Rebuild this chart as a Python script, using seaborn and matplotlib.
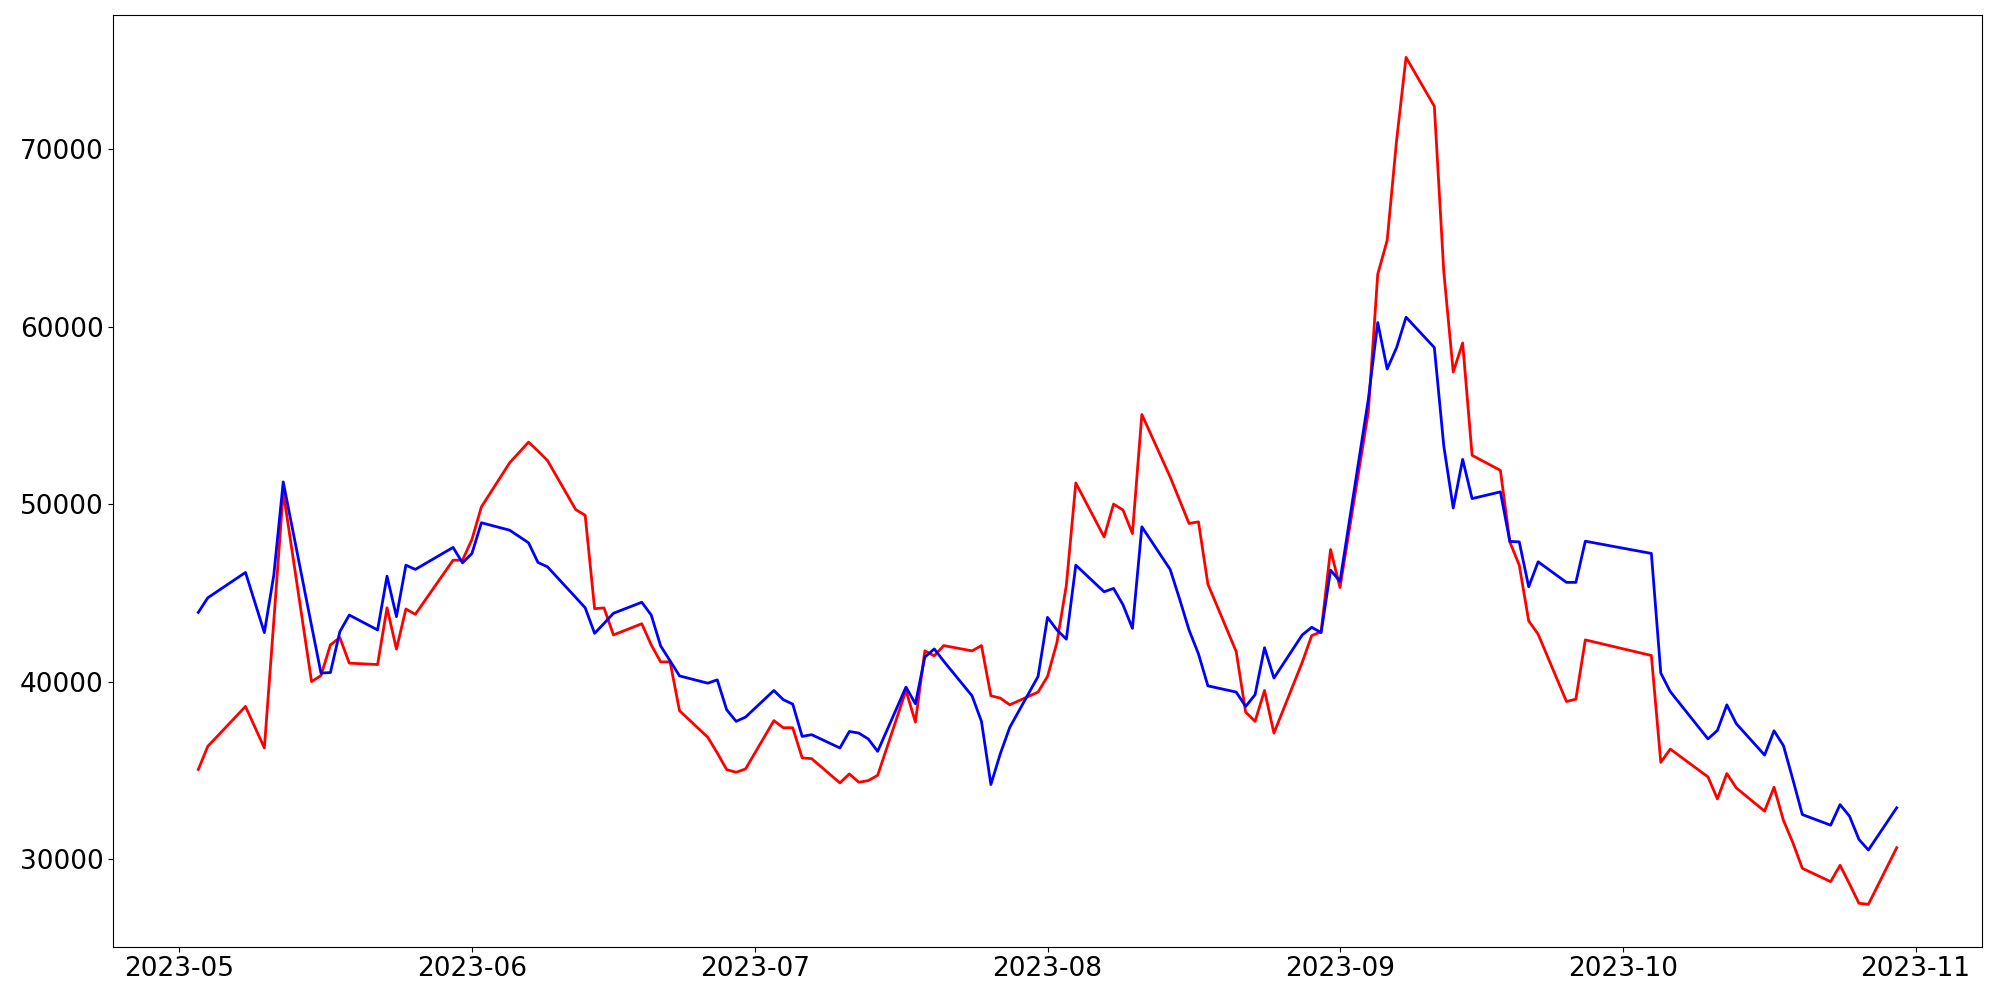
import pandas as pd
import matplotlib
matplotlib.use('Agg')
import matplotlib.pyplot as plt
import seaborn as sns

# Dates (business days with some gaps)
dates = [
    '2023-05-03', '2023-05-04', '2023-05-08', '2023-05-10', '2023-05-11', '2023-05-12',
    '2023-05-15', '2023-05-16', '2023-05-17', '2023-05-18', '2023-05-19',
    '2023-05-22', '2023-05-23', '2023-05-24', '2023-05-25', '2023-05-26',
    '2023-05-30', '2023-05-31', '2023-06-01', '2023-06-02',
    '2023-06-05', '2023-06-07', '2023-06-08', '2023-06-09',
    '2023-06-12', '2023-06-13', '2023-06-14', '2023-06-15', '2023-06-16',
    '2023-06-19', '2023-06-20', '2023-06-21', '2023-06-22', '2023-06-23',
    '2023-06-26', '2023-06-27', '2023-06-28', '2023-06-29', '2023-06-30',
    '2023-07-03', '2023-07-04', '2023-07-05', '2023-07-06', '2023-07-07',
    '2023-07-10', '2023-07-11', '2023-07-12', '2023-07-13', '2023-07-14',
    '2023-07-17', '2023-07-18', '2023-07-19', '2023-07-20', '2023-07-21',
    '2023-07-24', '2023-07-25', '2023-07-26', '2023-07-27', '2023-07-28',
    '2023-07-31', '2023-08-01', '2023-08-02', '2023-08-03', '2023-08-04',
    '2023-08-07', '2023-08-08', '2023-08-09', '2023-08-10', '2023-08-11',
    '2023-08-14', '2023-08-15', '2023-08-16', '2023-08-17', '2023-08-18',
    '2023-08-21', '2023-08-22', '2023-08-23', '2023-08-24', '2023-08-25',
    '2023-08-28', '2023-08-29', '2023-08-30', '2023-08-31', '2023-09-01',
    '2023-09-04', '2023-09-05', '2023-09-06', '2023-09-07', '2023-09-08',
    '2023-09-11', '2023-09-12', '2023-09-13', '2023-09-14', '2023-09-15',
    '2023-09-18', '2023-09-19', '2023-09-20', '2023-09-21', '2023-09-22',
    '2023-09-25', '2023-09-26', '2023-09-27',
    '2023-10-04', '2023-10-05', '2023-10-06',
    '2023-10-10', '2023-10-11', '2023-10-12', '2023-10-13',
    '2023-10-16', '2023-10-17', '2023-10-18', '2023-10-19', '2023-10-20',
    '2023-10-23', '2023-10-24', '2023-10-25', '2023-10-26', '2023-10-27',
    '2023-10-30',
]

red_values = [
    35050, 36350, 38600, 36260, 43400, 50700,
    40000, 40340, 42070, 42480, 41040,
    40960, 44160, 41830, 44090, 43790,
    46840, 46840, 48010, 49840,
    52330, 53490, 52990, 52460,
    49690, 49370, 44110, 44150, 42630,
    43260, 42070, 41110, 41110, 38360,
    36860, 35980, 35040, 34890, 35080,
    37800, 37400, 37400, 35700, 35660,
    34290, 34800, 34330, 34420, 34720,
    39500, 37720, 41730, 41450, 42030,
    41730, 42030, 39200, 39070, 38690,
    39410, 40290, 42200, 45440, 51190,
    48150, 50000, 49670, 48340, 55050,
    51530, 50220, 48910, 49000, 45490,
    41690, 38280, 37760, 39500, 37100,
    41090, 42590, 42810, 47440, 45300,
    55180, 62950, 64860, 70500, 75170,
    72410, 63100, 57440, 59080, 52750,
    51900, 47870, 46560, 43420, 42670,
    38880, 39010, 42350,
    41470, 35450, 36200,
    34630, 33390, 34820, 34010,
    32700, 34050, 32180, 30920, 29480,
    28730, 29650, 28600, 27510, 27450,
    30640,
]

blue_values = [
    43900, 44720, 46150, 42760, 46000, 51250,
    43150, 40480, 40510, 42810, 43750,
    42910, 45940, 43660, 46560, 46320,
    47560, 46690, 47220, 48950,
    48530, 47820, 46710, 46470,
    44740, 44160, 42720, 43280, 43850,
    44470, 43750, 42010, 41170, 40320,
    39910, 40100, 38410, 37760, 38000,
    39500, 38980, 38730, 36910, 37010,
    36260, 37190, 37100, 36770, 36070,
    39690, 38750, 41380, 41840, 41150,
    39200, 37760, 34200, 35940, 37420,
    40290, 43620, 42910, 42390, 46560,
    45060, 45250, 44330, 43000, 48720,
    46320, 44650, 42910, 41560, 39760,
    39410, 38600, 39260, 41910, 40200,
    42630, 43060, 42760, 46280, 45650,
    55900, 60230, 57610, 58820, 60530,
    58820, 53280, 49780, 52520, 50310,
    50690, 47900, 47870, 45340, 46750,
    45590, 45590, 47910,
    47220, 40480, 39440,
    36770, 37250, 38690, 37630,
    35860, 37230, 36390, 34480, 32510,
    31910, 33070, 32420, 31110, 30510,
    32890,
]

x = pd.to_datetime(dates)

fig, ax = plt.subplots(figsize=(20, 10), dpi=100)
sns.lineplot(x=x, y=red_values, color='red', linewidth=2, ax=ax)
sns.lineplot(x=x, y=blue_values, color='blue', linewidth=2, ax=ax)

ax.set_xlabel('')
ax.set_ylabel('')
ax.tick_params(axis='both', labelsize=19)

plt.subplots_adjust(left=0.0567, right=0.9908, top=0.985, bottom=0.0533)
plt.savefig('out.png')
